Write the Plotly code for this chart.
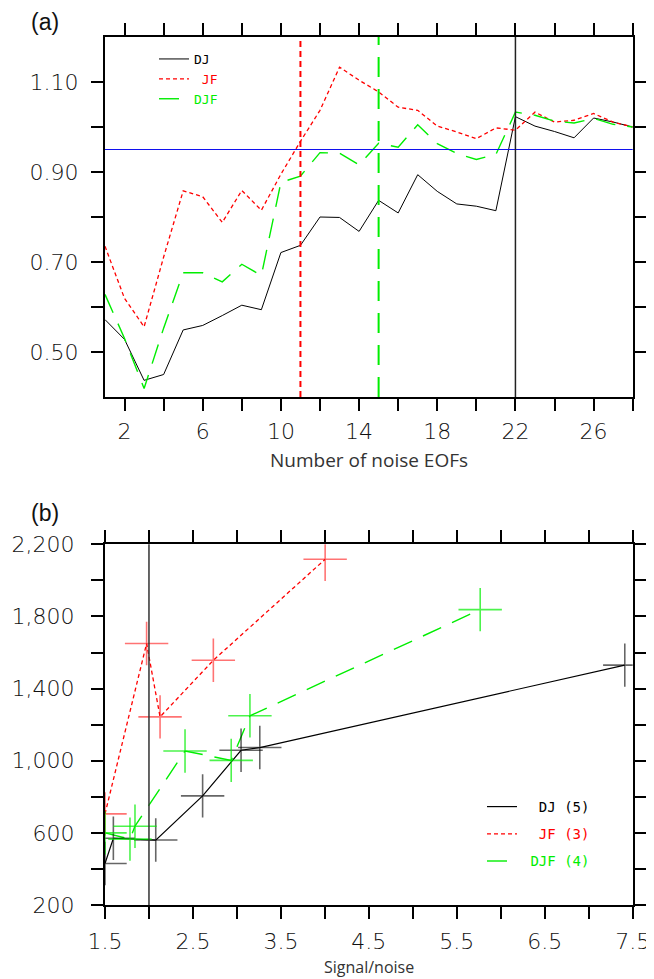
import plotly.graph_objects as go

# ---------------- Panel (a) data ----------------
a_x = list(range(1, 29))
a_dj = [0.572, 0.528, 0.437, 0.450, 0.549, 0.559, 0.581, 0.604, 0.594, 0.721,
        0.737, 0.800, 0.799, 0.768, 0.837, 0.809, 0.894, 0.857, 0.829, 0.824,
        0.814, 1.023, 1.002, 0.990, 0.976, 1.020, 1.011, 1.000]
a_jf = [0.735, 0.619, 0.556, 0.711, 0.858, 0.845, 0.788, 0.859, 0.815, 0.895,
        0.968, 1.037, 1.133, 1.104, 1.078, 1.044, 1.037, 1.002, 0.989, 0.974,
        0.998, 0.993, 1.033, 1.011, 1.015, 1.030, 1.011, 1.000]
a_djf = [0.628, 0.530, 0.419, 0.553, 0.676, 0.676, 0.656, 0.695, 0.670, 0.877,
         0.891, 0.943, 0.942, 0.916, 0.964, 0.955, 1.005, 0.963, 0.941, 0.928,
         0.939, 1.033, 1.026, 1.013, 1.009, 1.019, 1.006, 1.000]
a_hline = 0.95
a_vline_jf = 11
a_vline_djf = 15
a_vline_dj = 22

a_xtick_vals = [2, 4, 6, 8, 10, 12, 14, 16, 18, 20, 22, 24, 26, 28]
a_xtick_text = ["2", "", "6", "", "10", "", "14", "", "18", "", "22", "", "26", ""]
a_ytick_vals = [0.5, 0.6, 0.7, 0.8, 0.9, 1.0, 1.1]
a_ytick_text = ["0.50", "", "0.70", "", "0.90", "", "1.10"]

# ---------------- Panel (b) data ----------------
b_dj_x = [1.50, 1.595, 2.077, 2.61, 3.047, 3.26, 7.41]
b_dj_y = [430, 570, 560, 805, 1058, 1073, 1530]
b_jf_x = [1.50, 1.973, 2.126, 2.732, 4.003]
b_jf_y = [705, 1650, 1243, 1557, 2117]
b_djf_x = [1.50, 1.784, 1.841, 2.41, 2.935, 3.148, 5.766]
b_djf_y = [600, 565, 637, 1054, 1002, 1249, 1838]
b_vline = 2.0

b_xtick_vals = [1.5, 2.0, 2.5, 3.0, 3.5, 4.0, 4.5, 5.0, 5.5, 6.0, 6.5, 7.0, 7.5]
b_xtick_text = ["1.5", "", "2.5", "", "3.5", "", "4.5", "", "5.5", "", "6.5", "", "7.5"]
b_ytick_vals = [200, 400, 600, 800, 1000, 1200, 1400, 1600, 1800, 2000, 2200]
b_ytick_text = ["200", "", "600", "", "1,000", "", "1,400", "", "1,800", "", "2,200"]

# ---------------- Styling ----------------
# page body has an 8px margin, so the figure is placed at (8, 8)
OFF = 8
W, H = 654 - OFF, 979 - OFF
BLACK, RED, GREEN = "#000000", "#ff0000", "#00ee00"
RED_DASH = "4px,3px"
GREEN_DASH = "20px,12px"


def px_x(p):
    return (p - OFF) / W


def px_y(p):
    return 1 - (p - OFF) / H


fig = go.Figure()

# ---- Panel (a) traces ----
fig.add_trace(go.Scatter(x=a_x, y=a_dj, mode="lines", name="DJ",
                         line=dict(color=BLACK, width=1), xaxis="x", yaxis="y",
                         legend="legend"))
fig.add_trace(go.Scatter(x=a_x, y=a_jf, mode="lines",
                         name="<span style='color:#ff0000'>&nbsp;JF</span>",
                         line=dict(color=RED, width=1.3, dash=RED_DASH),
                         xaxis="x", yaxis="y", legend="legend"))
fig.add_trace(go.Scatter(x=a_x, y=a_djf, mode="lines",
                         name="<span style='color:#00ee00'>DJF</span>",
                         line=dict(color=GREEN, width=1.4, dash=GREEN_DASH),
                         xaxis="x", yaxis="y", legend="legend"))

fig.add_shape(type="line", xref="x domain", yref="y", x0=0, x1=1,
              y0=a_hline, y1=a_hline, line=dict(color="#1010ee", width=1))
fig.add_shape(type="line", xref="x", yref="y domain", x0=a_vline_jf, x1=a_vline_jf,
              y0=0, y1=1, line=dict(color=RED, width=2, dash="6px,4px"))
fig.add_shape(type="line", xref="x", yref="y domain", x0=a_vline_djf, x1=a_vline_djf,
              y0=0, y1=1, line=dict(color=GREEN, width=2, dash=GREEN_DASH))
fig.add_shape(type="line", xref="x", yref="y domain", x0=a_vline_dj, x1=a_vline_dj,
              y0=0, y1=1, line=dict(color="#222222", width=1.5))

# ---- Panel (b) traces ----
series_b = [
    (b_dj_x, b_dj_y, "&nbsp;&nbsp;DJ (5)", BLACK, None, 1.2, "rgba(0,0,0,0.6)"),
    (b_jf_x, b_jf_y, "<span style='color:#ff0000'>&nbsp;&nbsp;JF (3)</span>", RED,
     RED_DASH, 1.3, "rgba(255,0,0,0.55)"),
    (b_djf_x, b_djf_y, "<span style='color:#00ee00'>&nbsp;DJF (4)</span>", GREEN,
     GREEN_DASH, 1.4, "rgba(0,238,0,0.7)"),
]
for i, (xs, ys, nm, col, dsh, lw, mcol) in enumerate(series_b):
    fig.add_trace(go.Scatter(x=xs, y=ys, mode="lines", name=nm,
                             line=dict(color=col, width=lw, dash=dsh),
                             xaxis="x2", yaxis="y2", legend="legend2",
                             legendgroup="g%d" % i))
for xs, ys, nm, col, dsh, lw, mcol in series_b:
    fig.add_trace(go.Scatter(x=xs, y=ys, mode="markers", showlegend=False,
                             marker=dict(symbol="cross-thin-open", size=31, color=mcol,
                                         line=dict(color=mcol, width=1.6)),
                             xaxis="x2", yaxis="y2", hoverinfo="skip"))

fig.add_shape(type="line", xref="x2", yref="y2 domain", x0=b_vline, x1=b_vline,
              y0=0, y1=1, line=dict(color="#333333", width=1.5))

tickfont = dict(family="DejaVu Sans", size=22, color="#111111", weight=200)
common = dict(showline=True, linewidth=2.2, linecolor="black", mirror="allticks",
              ticks="outside", ticklen=12, tickwidth=2, tickcolor="black",
              showgrid=False, zeroline=False, tickfont=tickfont, tickmode="array",
              automargin=False)

fig.update_layout(
    width=W, height=H,
    margin=dict(l=0, r=0, t=0, b=0, autoexpand=False),
    paper_bgcolor="white", plot_bgcolor="white",
    xaxis=dict(domain=[px_x(105), px_x(632.7)], range=[1, 28], anchor="y",
               tickvals=a_xtick_vals, ticktext=a_xtick_text,
               ticklabelstandoff=1, **common),
    yaxis=dict(domain=[px_y(397), px_y(37)], range=[0.4, 1.2], anchor="x",
               tickvals=a_ytick_vals, ticktext=a_ytick_text,
               ticklabelstandoff=8, **common),
    xaxis2=dict(domain=[px_x(105), px_x(632.7)], range=[1.5, 7.5], anchor="y2",
                tickvals=b_xtick_vals, ticktext=b_xtick_text,
                ticklabelstandoff=3, **common),
    yaxis2=dict(domain=[px_y(905), px_y(544.3)], range=[200, 2200], anchor="x2",
                tickvals=b_ytick_vals, ticktext=b_ytick_text,
                ticklabelstandoff=12, **common),
    legend=dict(x=px_x(154), y=px_y(44), xanchor="left", yanchor="top",
                bgcolor="rgba(0,0,0,0)", borderwidth=0, traceorder="normal",
                font=dict(family="DejaVu Sans Mono", size=13, color="black")),
    legend2=dict(x=px_x(482), y=px_y(791), xanchor="left", yanchor="top",
                 bgcolor="rgba(0,0,0,0)", borderwidth=0, traceorder="grouped",
                 tracegroupgap=6,
                 font=dict(family="DejaVu Sans Mono", size=14, color="black")),
    showlegend=True,
)

fig.add_annotation(text="(a)", x=px_x(29), y=px_y(22), xref="paper", yref="paper",
                   xanchor="left", yanchor="middle", showarrow=False,
                   font=dict(family="Liberation Sans", size=23, color="#111111"))
fig.add_annotation(text="(b)", x=px_x(29), y=px_y(513), xref="paper", yref="paper",
                   xanchor="left", yanchor="middle", showarrow=False,
                   font=dict(family="Liberation Sans", size=23, color="#111111"))
fig.add_annotation(text="Number of noise EOFs", x=0.5, y=px_y(460), xref="x domain",
                   yref="paper", xanchor="center", yanchor="middle", showarrow=False,
                   font=dict(family="Open Sans", size=19, color="#333333"))
fig.add_annotation(text="Signal/noise", x=0.5, y=px_y(967), xref="x2 domain",
                   yref="paper", xanchor="center", yanchor="middle", showarrow=False,
                   font=dict(family="Open Sans", size=16, color="#333333"))

fig.write_html("out.html")
